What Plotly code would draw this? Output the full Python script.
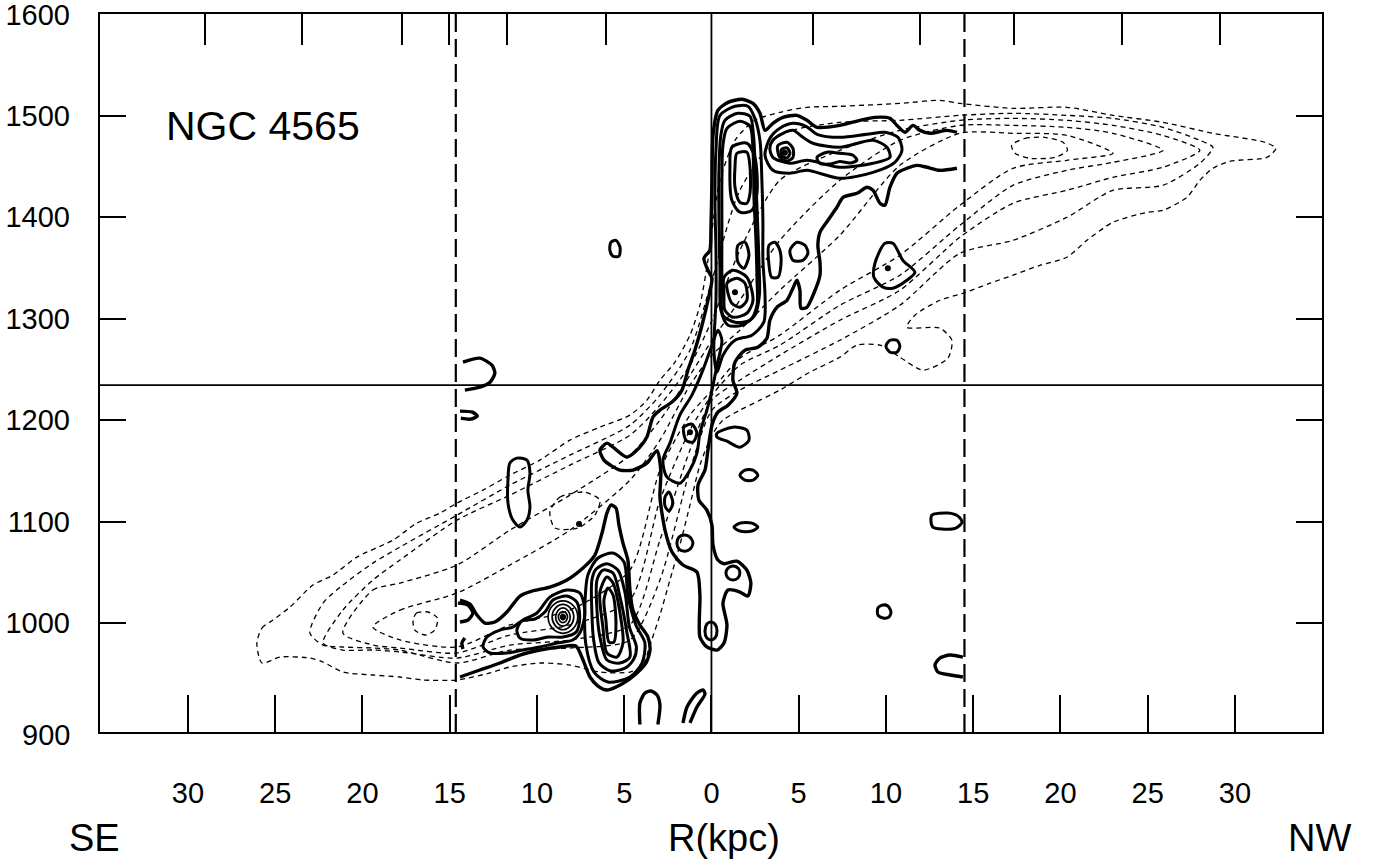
import plotly.graph_objects as go

# ---------------- axes / reference values ----------------
R_TICKS = [-30, -25, -20, -15, -10, -5, 0, 5, 10, 15, 20, 25, 30]
R_TICK_TEXT = ["30", "25", "20", "15", "10", "5", "0", "5", "10", "15", "20", "25", "30"]
R_TOP_TICKS = [-29.03, -23.47, -17.74, -15.04, -11.72, -6.05, 5.82, 11.95, 17.34, 23.52, 29.14]
V_TICKS = [1000, 1100, 1200, 1300, 1400, 1500, 1600]
R_RANGE = [-35.04, 34.99]
V_RANGE = [892.6, 1600.4]
V_SYS = 1234.5
R_EDGES = [-14.65, 14.5]

# ---------------- HI contours (thin dashed), (R kpc, V km/s) ----------------
HI_1 = [(-26.05, 980.3), (-25.76, 995.1), (-25.13, 1003.0), (-24.15, 1015.8), (-22.84, 1037.5), (-21.69, 1047.3),
        (-20.32, 1065.0), (-18.25, 1081.8), (-16.88, 1098.5), (-15.56, 1108.4), (-14.58, 1118.3), (-13.09, 1131.1),
        (-11.55, 1145.8), (-9.83, 1160.6), (-8.11, 1180.3), (-6.39, 1193.1), (-4.67, 1205.0), (-3.70, 1219.7),
        (-2.95, 1239.4), (-2.09, 1257.2), (-1.23, 1283.8), (-0.66, 1313.3), (-0.20, 1357.6), (0.03, 1387.2),
        (0.49, 1436.5), (1.35, 1475.9), (2.49, 1495.6), (3.92, 1503.5), (5.47, 1508.4), (7.36, 1509.4),
        (10.80, 1512.3), (13.09, 1515.3), (14.24, 1512.3), (17.28, 1507.4), (20.37, 1508.4), (23.01, 1500.5),
        (25.87, 1493.6), (28.74, 1482.8), (31.72, 1473.9), (32.35, 1468.0), (31.83, 1459.1), (29.71, 1455.2),
        (28.74, 1448.3), (27.99, 1436.5), (27.25, 1419.7), (25.87, 1406.9), (24.96, 1404.9), (23.01, 1395.1),
        (21.52, 1377.3), (20.37, 1360.6), (18.83, 1352.7), (17.28, 1342.9), (15.96, 1335.0), (14.41, 1325.1),
        (13.09, 1318.2), (11.66, 1303.5), (11.20, 1291.6), (13.09, 1290.7), (13.78, 1278.8), (13.55, 1261.1),
        (12.12, 1249.3), (10.80, 1262.1), (9.66, 1273.9), (8.34, 1273.9), (7.36, 1262.1), (5.64, 1247.3),
        (3.92, 1229.6), (2.78, 1219.7), (1.63, 1209.9), (0.66, 1200.0), (0.03, 1185.2), (-0.66, 1155.7),
        (-1.23, 1116.3), (-1.81, 1076.9), (-2.38, 1042.4), (-2.95, 1007.9), (-3.52, 978.3), (-3.93, 958.6),
        (-4.67, 951.7), (-6.39, 951.7), (-8.11, 958.6), (-9.83, 960.6), (-11.55, 956.7), (-12.69, 950.8),
        (-14.58, 943.9), (-16.53, 943.9), (-17.85, 946.8), (-19.40, 948.8), (-21.12, 951.7), (-22.26, 961.6),
        (-23.01, 965.5), (-24.73, 966.5), (-25.76, 960.6)]
HI_2 = [(-23.01, 990.2), (-22.26, 1019.7), (-21.12, 1037.5), (-19.40, 1059.1), (-17.85, 1074.9), (-14.58, 1106.4),
        (-11.55, 1136.0), (-8.11, 1165.5), (-4.67, 1195.1), (-2.95, 1224.7), (-1.23, 1269.0), (0.03, 1337.9),
        (1.63, 1426.6), (3.92, 1480.8), (7.36, 1493.6), (10.80, 1495.6), (14.24, 1500.5), (17.28, 1502.5),
        (20.37, 1500.5), (23.01, 1497.5), (25.87, 1488.7), (27.99, 1475.9), (28.74, 1469.0), (27.99, 1453.2),
        (25.87, 1431.5), (23.01, 1426.6), (20.37, 1400.0), (17.28, 1377.3), (14.24, 1364.5), (10.80, 1313.3),
        (7.36, 1278.8), (3.92, 1249.3), (1.63, 1229.6), (0.03, 1209.9), (-1.23, 1150.8), (-2.95, 1042.4),
        (-4.67, 983.3), (-8.11, 975.4), (-11.55, 973.4), (-14.58, 960.6), (-17.85, 973.4), (-19.40, 975.4),
        (-21.12, 976.4), (-22.26, 978.3)]
HI_3 = [(-22.26, 980.3), (-21.12, 1012.8), (-19.40, 1042.4), (-17.85, 1062.1), (-14.58, 1101.5), (-11.55, 1126.1),
        (-8.11, 1155.7), (-4.67, 1185.2), (-2.95, 1214.8), (-1.23, 1254.2), (0.03, 1298.5), (1.63, 1367.5),
        (3.92, 1436.5), (7.36, 1466.0), (10.80, 1485.7), (14.24, 1495.6), (17.28, 1497.5), (20.37, 1495.6),
        (23.01, 1490.6), (25.87, 1480.8), (27.99, 1466.0), (25.87, 1449.3), (23.01, 1439.4), (20.37, 1426.6),
        (17.28, 1413.8), (14.24, 1380.3), (10.80, 1328.1), (7.36, 1298.5), (3.92, 1264.1), (1.63, 1239.4),
        (0.03, 1219.7), (-1.23, 1170.5), (-2.95, 1081.8), (-4.67, 998.1), (-8.11, 983.3), (-11.55, 978.3),
        (-14.58, 965.5), (-17.85, 971.5), (-19.40, 973.4), (-21.12, 973.4)]
HI_4 = [(-21.12, 990.2), (-19.40, 1032.5), (-17.85, 1039.4), (-14.58, 1057.2), (-11.55, 1091.6), (-8.11, 1126.1),
        (-4.67, 1165.5), (-2.95, 1200.0), (-1.23, 1244.3), (0.03, 1278.8), (1.63, 1318.2), (3.92, 1377.3),
        (7.36, 1436.5), (10.80, 1475.9), (14.24, 1490.6), (17.28, 1490.6), (20.37, 1488.7), (23.01, 1482.8),
        (25.87, 1466.0), (23.01, 1454.2), (20.37, 1446.3), (17.28, 1431.5), (14.24, 1392.1), (10.80, 1342.9),
        (7.36, 1313.3), (3.92, 1273.9), (1.63, 1254.2), (0.03, 1224.7), (-1.23, 1190.2), (-2.95, 1121.2),
        (-4.67, 1022.7), (-8.11, 998.1), (-11.55, 988.2), (-14.58, 970.5), (-17.85, 975.4), (-19.40, 978.3)]
HI_5 = [(-19.40, 996.1), (-17.85, 1012.8), (-14.58, 1029.6), (-11.55, 1057.2), (-8.11, 1091.6), (-4.67, 1140.9),
        (-2.95, 1180.3), (-1.23, 1234.5), (0.03, 1264.1), (1.63, 1288.7), (3.92, 1328.1), (7.36, 1382.3),
        (10.80, 1451.2), (14.24, 1482.8), (17.28, 1482.8), (20.37, 1480.8), (23.01, 1463.1), (20.37, 1456.2),
        (17.28, 1448.3), (14.24, 1411.8), (10.80, 1362.6), (7.36, 1328.1), (3.92, 1283.8), (1.63, 1261.1),
        (0.03, 1229.6), (-1.23, 1205.0), (-2.95, 1150.8), (-4.67, 1052.2), (-8.11, 1012.8), (-11.55, 998.1),
        (-14.58, 976.4), (-17.85, 983.3)]
HI_PEAK_SE = [(-17.1, 1003.0), (-16.9, 1009.9), (-16.25, 1010.9), (-15.7, 1005.0), (-15.85, 993.1), (-16.4, 988.2),
              (-17.0, 993.1)]
HI_PEAK_NW = [(17.2, 1471.0), (17.97, 1477.8), (19.1, 1478.8), (20.15, 1473.9), (20.4, 1466.0), (19.7, 1459.1),
              (18.25, 1458.1), (17.4, 1463.1)]
HI_KNOT = [(-9.26, 1109.4), (-8.68, 1124.2), (-7.25, 1129.1), (-6.39, 1121.2), (-6.68, 1106.4), (-7.65, 1093.6),
           (-8.97, 1093.6)]

# ---------------- thick contours: closed loops ----------------
C_2 = [(0.49, 1500.5), (1.35, 1509.4), (2.09, 1509.4), (2.49, 1497.5), (2.78, 1475.9), (2.89, 1436.5),
       (2.95, 1397.1), (2.95, 1357.6), (3.07, 1323.2), (3.0, 1296.6), (2.32, 1283.8), (1.35, 1278.8),
       (0.66, 1264.1), (0.32, 1247.3), (0.14, 1269.0), (0.26, 1318.2), (0.26, 1367.5), (0.20, 1416.8), (0.26, 1466.0)]
C_3 = [(0.77, 1495.6), (1.52, 1502.5), (2.21, 1499.5), (2.41, 1480.8), (2.52, 1446.3), (2.64, 1397.1),
       (2.72, 1357.6), (2.75, 1323.2), (2.49, 1303.5), (1.75, 1293.6), (0.95, 1293.6), (0.54, 1308.4),
       (0.49, 1347.8), (0.43, 1397.1), (0.43, 1446.3), (0.54, 1480.8)]
C_4 = [(0.89, 1487.7), (1.63, 1494.6), (2.21, 1489.7), (2.38, 1466.0), (2.44, 1416.8), (2.55, 1377.3),
       (2.61, 1337.9), (2.61, 1313.3), (2.21, 1298.5), (1.35, 1296.6), (0.66, 1303.5), (0.60, 1337.9),
       (0.60, 1387.2), (0.60, 1436.5), (0.66, 1471.0)]
PEAK_TOP_1 = [(1.06, 1449.3), (1.17, 1469.0), (2.03, 1473.0), (2.49, 1459.1), (2.61, 1423.7), (2.32, 1406.9),
              (1.63, 1405.0), (1.17, 1416.8)]
PEAK_TOP_2 = [(1.46, 1463.1), (2.03, 1464.1), (2.21, 1449.3), (2.21, 1423.7), (2.03, 1413.8), (1.63, 1414.8),
              (1.35, 1429.6), (1.35, 1449.3)]
PEAK_MID = [(1.52, 1372.4), (1.92, 1375.4), (2.15, 1362.6), (1.86, 1349.8), (1.52, 1355.7)]
PEAK_LOW_1 = [(0.72, 1325.1), (0.72, 1340.9), (1.23, 1347.8), (2.03, 1340.9), (2.38, 1318.2), (2.03, 1305.4),
              (1.23, 1301.5), (0.77, 1308.4)]
PEAK_LOW_2 = [(0.95, 1325.1), (0.89, 1335.0), (1.46, 1339.9), (1.92, 1335.0), (2.03, 1318.2), (1.63, 1311.3),
              (1.17, 1315.3)]
ARM_2 = [(3.35, 1477.8), (3.92, 1487.7), (4.67, 1492.6), (5.42, 1489.7), (6.05, 1481.8), (7.36, 1478.8),
         (8.91, 1481.8), (9.94, 1483.8), (10.69, 1478.8), (10.92, 1466.0), (10.51, 1454.2), (9.26, 1444.3),
         (7.36, 1438.4), (5.47, 1446.3), (4.50, 1443.4), (3.52, 1446.3), (3.07, 1461.1)]
ARM_3 = [(3.52, 1475.9), (4.10, 1482.8), (4.67, 1485.7), (5.24, 1478.8), (5.82, 1473.0), (7.36, 1469.0),
         (9.26, 1475.9), (10.06, 1469.0), (10.23, 1459.1), (9.26, 1453.2), (7.36, 1449.3), (5.47, 1456.2),
         (4.50, 1453.2), (3.52, 1459.1), (3.35, 1468.0)]
ARM_PEAK_1 = [(3.80, 1470.5), (4.33, 1474.0), (4.67, 1468.0), (4.67, 1459.0), (4.33, 1455.5), (3.92, 1459.0)]
ARM_PEAK_2 = [(4.00, 1466.5), (4.33, 1468.5), (4.50, 1463.1), (4.33, 1458.5), (4.04, 1460.5)]
ARM_KNOT = [(6.05, 1459.1), (6.62, 1464.1), (7.36, 1463.1), (8.11, 1461.1), (8.34, 1456.2), (7.94, 1453.5),
            (7.36, 1455.0), (6.79, 1452.5), (6.22, 1453.0)]
CHAIN_1 = [(-2.38, 1177.4), (-2.78, 1160.6), (-2.55, 1143.9), (-1.81, 1137.9), (-1.23, 1150.8), (-0.83, 1167.5),
           (-0.66, 1187.2), (-0.26, 1209.9), (0.03, 1229.6), (0.32, 1254.2), (0.60, 1278.8), (0.37, 1288.7),
           (0.03, 1273.9), (-0.49, 1249.3), (-1.12, 1224.7), (-1.81, 1205.0)]
CHAIN_2 = [(-1.58, 1193.1), (-1.12, 1196.1), (-0.83, 1187.2), (-1.06, 1178.3), (-1.46, 1180.3)]
CHAIN_3 = [(-2.66, 1124.2), (-2.44, 1129.1), (-2.21, 1118.3), (-2.44, 1110.4), (-2.66, 1115.3)]
CHAIN_RING_1 = [(-1.06, 1078.8), (-1.23, 1084.7), (-1.52, 1086.7), (-1.86, 1084.7), (-1.98, 1078.8),
                (-1.86, 1072.9), (-1.52, 1070.9), (-1.23, 1072.9)]
CHAIN_RING_2 = [(1.63, 1049.3), (1.52, 1054.2), (1.23, 1056.2), (0.95, 1054.2), (0.83, 1049.3), (0.95, 1044.4),
                (1.23, 1042.4), (1.52, 1044.4)]
CHAIN_RING_3 = [(0.32, 992.1), (0.20, 999.0), (-0.03, 1001.0), (-0.26, 999.0), (-0.37, 992.1), (-0.26, 985.2),
                (-0.03, 983.3), (0.20, 985.2)]
WING = [(0.32, 1187.2), (1.23, 1193.1), (2.03, 1190.2), (2.15, 1180.3), (1.63, 1173.4), (0.89, 1179.3),
        (0.32, 1183.3)]
OVAL_1 = [(2.66, 1145.8), (2.38, 1150.8), (1.92, 1150.8), (1.63, 1145.8), (1.92, 1140.9), (2.38, 1140.9)]
OVAL_2 = [(2.66, 1094.6), (2.32, 1098.5), (1.63, 1098.5), (1.29, 1094.6), (1.63, 1090.7), (2.32, 1090.7)]
ISO_SE = [(-5.76, 1375.4), (-5.47, 1377.3), (-5.24, 1370.5), (-5.30, 1361.6), (-5.64, 1361.6), (-5.82, 1367.5)]
BEAN = [(-11.55, 1157.7), (-11.15, 1162.6), (-10.57, 1160.6), (-10.40, 1147.8), (-10.52, 1131.1),
        (-10.40, 1114.3), (-10.57, 1101.5), (-10.97, 1094.6), (-11.38, 1101.5), (-11.66, 1118.3), (-11.66, 1140.9)]
ISO_NW_1 = [(10.29, 1010.9), (10.11, 1016.8), (9.83, 1017.8), (9.54, 1014.8), (9.54, 1007.9), (9.83, 1005.0),
            (10.17, 1005.9)]
ISO_NW_2 = [(12.64, 1106.4), (13.55, 1108.4), (14.13, 1105.4), (14.36, 1099.5), (14.01, 1093.6), (13.21, 1092.6),
            (12.69, 1094.6), (12.58, 1100.5)]
ISO_NW_3 = [(9.37, 1354.7), (9.94, 1374.4), (10.40, 1374.4), (10.97, 1357.6), (11.66, 1345.8), (11.20, 1337.9),
            (10.40, 1330.1), (9.83, 1331.1), (9.31, 1340.9)]
ISO_NW_4 = [(10.80, 1272.9), (10.63, 1278.8), (10.23, 1278.8), (10.00, 1272.9), (10.23, 1267.0), (10.63, 1267.0)]
KNOT_A = [(3.30, 1372.4), (3.64, 1375.4), (3.92, 1367.5), (3.98, 1352.7), (3.81, 1340.9), (3.45, 1340.9),
          (3.30, 1352.7)]
KNOT_B = [(4.50, 1367.5), (4.90, 1375.4), (5.36, 1372.4), (5.53, 1364.6), (5.24, 1357.6), (4.67, 1357.6)]
SE_2 = [(-13.09, 976.4), (-12.87, 986.2), (-12.12, 993.1), (-11.38, 996.1), (-10.80, 1003.0), (-10.00, 1009.9),
        (-9.26, 1025.6), (-8.28, 1032.5), (-7.54, 1029.6), (-7.25, 1009.9), (-7.54, 990.2), (-7.94, 983.3),
        (-8.85, 980.3), (-9.83, 976.4), (-10.80, 973.4), (-11.72, 970.5), (-12.69, 970.5)]
SE_3 = [(-11.15, 993.1), (-10.86, 1002.0), (-10.11, 1004.0), (-9.54, 1010.9), (-9.08, 1022.7), (-8.28, 1026.6),
        (-7.71, 1020.7), (-7.55, 1005.0), (-7.75, 991.2), (-8.51, 986.2), (-9.37, 986.2), (-10.23, 983.3),
        (-10.97, 985.2)]
SE_RING_1 = [(-7.66, 1005.9), (-7.91, 1017.1), (-8.51, 1021.9), (-9.11, 1017.1), (-9.36, 1005.9), (-9.11, 994.7),
             (-8.51, 989.9), (-7.91, 994.7)]
SE_RING_2 = [(-7.89, 1005.9), (-8.08, 1014.7), (-8.51, 1018.4), (-8.94, 1014.7), (-9.13, 1005.9), (-8.94, 997.2),
             (-8.51, 993.4), (-8.08, 997.2)]
SE_RING_3 = [(-8.09, 1005.9), (-8.22, 1012.2), (-8.51, 1014.9), (-8.80, 1012.2), (-8.93, 1005.9), (-8.80, 999.6),
             (-8.51, 996.9), (-8.22, 999.6)]
SE_RING_4 = [(-8.25, 1005.9), (-8.33, 1009.8), (-8.51, 1011.4), (-8.69, 1009.8), (-8.77, 1005.9), (-8.69, 1002.0),
             (-8.51, 1000.4), (-8.33, 1002.0)]
SE_RING_5 = [(-8.39, 1005.9), (-8.43, 1007.7), (-8.51, 1008.4), (-8.59, 1007.7), (-8.63, 1005.9), (-8.59, 1004.1),
             (-8.51, 1003.4), (-8.43, 1004.1)]
SE_BAR_0 = [(-7.08, 1047.3), (-6.50, 1064.1), (-5.64, 1069.0), (-5.01, 1060.1), (-4.79, 1027.6), (-4.33, 998.1),
            (-3.81, 980.3), (-3.98, 960.6), (-4.67, 946.8), (-5.93, 941.9), (-6.73, 951.7), (-7.19, 978.3),
            (-7.25, 1017.8)]
SE_BAR_1 = [(-6.85, 1042.4), (-6.62, 1053.0), (-5.99, 1058.5), (-5.35, 1052.0), (-4.95, 1029.6), (-4.70, 996.1),
            (-4.30, 976.4), (-4.45, 964.5), (-4.95, 955.5), (-5.82, 953.0), (-6.45, 961.0), (-6.75, 983.3),
            (-6.85, 1009.9)]
SE_BAR_2 = [(-6.56, 1042.4), (-6.22, 1052.2), (-5.64, 1049.3), (-5.24, 1025.6), (-4.84, 990.2), (-4.67, 966.5),
            (-5.24, 960.6), (-5.99, 963.6), (-6.39, 986.2), (-6.56, 1012.8)]
SE_BAR_3 = [(-6.39, 1030.6), (-5.99, 1045.4), (-5.64, 1039.4), (-5.24, 1009.9), (-5.07, 980.3), (-5.42, 966.5),
            (-5.99, 970.5), (-6.22, 996.1)]
SE_BAR_4 = [(-6.16, 1022.7), (-5.93, 1034.5), (-5.64, 1027.6), (-5.47, 1000.0), (-5.59, 981.3), (-5.87, 981.3),
            (-6.05, 1003.0)]

# ---------------- thick contours: open (cut by field edge or axis) ----------------
OUTER_CORE = [(14.07, 1483.8), (13.50, 1485.7), (12.52, 1482.8), (11.95, 1485.7), (11.55, 1490.6), (11.09, 1483.8),
              (10.63, 1490.6), (10.23, 1497.5), (9.37, 1498.5), (8.51, 1495.6), (7.36, 1490.6), (6.05, 1488.7),
              (5.47, 1495.6), (4.90, 1500.5), (4.10, 1498.5), (3.52, 1492.6), (3.07, 1485.7), (2.78, 1502.5),
              (2.38, 1512.3), (1.75, 1516.3), (0.95, 1513.3), (0.37, 1505.4), (0.09, 1480.8), (0.03, 1436.5),
              (-0.03, 1387.2), (-0.09, 1367.5), (-0.43, 1359.6), (-0.20, 1347.8), (0.03, 1339.9), (-0.20, 1318.2),
              (-0.54, 1293.6), (-0.95, 1269.0), (-1.35, 1249.3), (-1.69, 1229.6), (-2.26, 1217.8), (-2.95, 1209.9),
              (-3.35, 1203.0), (-3.70, 1183.3), (-4.10, 1173.4), (-4.84, 1163.6), (-5.64, 1173.4), (-5.99, 1177.4),
              (-6.39, 1170.5), (-6.16, 1160.6), (-5.70, 1154.7), (-5.24, 1150.8), (-4.50, 1150.8), (-3.70, 1157.7),
              (-3.12, 1170.0), (-2.90, 1150.0), (-2.95, 1124.2), (-2.66, 1091.6), (-2.26, 1070.0), (-1.63, 1057.2),
              (-0.83, 1050.3), (-0.66, 1027.6), (-0.66, 986.2), (-0.26, 976.4), (0.32, 973.4), (0.72, 980.3),
              (0.89, 998.1), (0.66, 1019.7), (0.95, 1032.5), (1.63, 1030.6), (2.09, 1026.6), (2.26, 1039.4),
              (2.03, 1052.2), (1.46, 1061.0), (0.72, 1058.5), (0.37, 1062.1), (0.09, 1076.9), (0.03, 1096.6),
              (-0.26, 1111.3), (-0.72, 1121.2), (-0.77, 1136.0), (-0.37, 1150.8), (-0.20, 1170.5), (0.03, 1195.1),
              (0.37, 1207.9), (0.95, 1214.8), (1.46, 1226.6), (1.23, 1239.4), (1.35, 1257.2), (1.92, 1269.0),
              (2.66, 1271.9), (3.18, 1280.8), (3.35, 1298.5), (3.75, 1311.3), (4.33, 1318.2), (4.67, 1330.1),
              (4.90, 1337.9), (5.07, 1328.1), (5.13, 1310.4), (5.47, 1311.3), (5.87, 1325.1), (6.22, 1342.9),
              (6.22, 1355.7), (6.10, 1372.4), (6.22, 1385.2), (6.68, 1397.1), (7.19, 1409.9), (7.54, 1419.7),
              (8.34, 1423.7), (8.91, 1429.6), (9.26, 1426.6), (9.66, 1413.8), (9.94, 1411.8), (10.23, 1429.6),
              (10.63, 1443.4), (11.20, 1448.3), (11.78, 1451.2), (12.35, 1449.3), (13.09, 1446.3), (14.07, 1448.3)]
OUTER_SE = [(-14.41, 1022.7), (-13.84, 1018.7), (-13.44, 1007.9), (-12.98, 1000.0), (-12.41, 1001.0),
            (-11.72, 1010.9), (-10.97, 1026.6), (-10.29, 1031.5), (-9.26, 1035.5), (-8.28, 1042.4), (-7.36, 1054.2),
            (-6.68, 1067.0), (-6.27, 1088.7), (-5.99, 1108.4), (-5.76, 1116.3), (-5.47, 1113.3), (-5.30, 1096.6),
            (-5.07, 1078.8), (-4.79, 1062.1), (-4.67, 1032.5), (-4.50, 1012.8), (-4.10, 998.1), (-3.64, 986.2),
            (-3.52, 973.4), (-3.75, 960.6), (-4.33, 949.8), (-5.13, 939.9), (-5.99, 934.0), (-6.50, 937.9),
            (-6.96, 946.8), (-7.36, 963.6), (-7.77, 977.4), (-8.68, 976.4), (-9.83, 973.4), (-10.97, 968.5),
            (-12.12, 960.6), (-13.27, 953.7), (-14.41, 946.8)]
ARCH = [(-4.10, 900.0), (-4.10, 921.2), (-3.81, 931.0), (-3.47, 933.0), (-3.12, 929.1), (-2.95, 919.3), (-3.07, 900.0)]
CURL = [(-1.63, 901.5), (-1.40, 917.3), (-0.89, 930.1), (-0.49, 934.0), (-0.37, 930.1), (-0.83, 917.3), (-1.23, 901.5)]
HOOK_SYS = [(-14.24, 1257.2), (-13.27, 1261.1), (-12.58, 1254.2), (-12.41, 1246.3), (-12.69, 1237.4),
            (-13.27, 1232.5), (-14.13, 1229.6)]
TICK_SYS = [(-14.41, 1208.9), (-13.70, 1207.9), (-13.41, 1204.0), (-13.81, 1201.0), (-14.36, 1202.0)]
HOOK_EDGE = [(-14.53, 1019.7), (-13.95, 1017.8), (-13.67, 1009.9), (-13.95, 1003.0), (-14.41, 1001.0)]
COMMA_EDGE = [(-14.13, 985.2), (-14.30, 980.3), (-14.24, 974.4)]
CUP_NW = [(14.41, 966.5), (13.67, 968.5), (13.09, 965.5), (12.81, 958.6), (12.98, 951.7), (13.67, 948.8), (14.41, 946.8)]

# intensity maxima (filled dots)
PEAK_DOTS = [(1.35, 1326.1), (4.21, 1463.5), (-1.23, 1188.2), (10.11, 1349.8), (-7.59, 1097.6), (-8.51, 1005.9)]

FONT = "Liberation Sans, Arial, Helvetica, sans-serif"


def closed(pts):
    return pts + [pts[0]]


fig = go.Figure()

hi_closed = [HI_1, HI_2, HI_3, HI_4, HI_5, HI_PEAK_SE, HI_PEAK_NW, HI_KNOT]
for c in hi_closed:
    c = closed(c)
    fig.add_trace(go.Scatter(x=[p[0] for p in c], y=[p[1] for p in c], mode="lines",
                             line=dict(color="black", width=1.3, dash="5px,4px", shape="spline", smoothing=0.7),
                             hoverinfo="skip", showlegend=False))

thick_closed = [C_2, C_3, C_4, PEAK_TOP_1, PEAK_TOP_2, PEAK_MID, PEAK_LOW_1, PEAK_LOW_2, ARM_2, ARM_3,
                ARM_PEAK_1, ARM_PEAK_2, ARM_KNOT, CHAIN_1, CHAIN_2, CHAIN_3, CHAIN_RING_1, CHAIN_RING_2,
                CHAIN_RING_3, WING, OVAL_1, OVAL_2, ISO_SE, BEAN, ISO_NW_1, ISO_NW_2, ISO_NW_3, ISO_NW_4,
                KNOT_A, KNOT_B, SE_2, SE_3, SE_BAR_0, SE_BAR_1, SE_BAR_2, SE_BAR_3, SE_BAR_4]
for c in thick_closed:
    c = closed(c)
    fig.add_trace(go.Scatter(x=[p[0] for p in c], y=[p[1] for p in c], mode="lines",
                             line=dict(color="black", width=3.0, shape="spline", smoothing=0.8),
                             hoverinfo="skip", showlegend=False))

for c in [SE_RING_1, SE_RING_2, SE_RING_3, SE_RING_4, SE_RING_5]:
    c = closed(c)
    fig.add_trace(go.Scatter(x=[p[0] for p in c], y=[p[1] for p in c], mode="lines",
                             line=dict(color="black", width=1.7, shape="spline", smoothing=1.0),
                             hoverinfo="skip", showlegend=False))

thick_open = [OUTER_CORE, OUTER_SE, ARCH, CURL, HOOK_SYS, TICK_SYS, HOOK_EDGE, COMMA_EDGE, CUP_NW]
for c in thick_open:
    fig.add_trace(go.Scatter(x=[p[0] for p in c], y=[p[1] for p in c], mode="lines",
                             line=dict(color="black", width=3.4, shape="spline", smoothing=0.7),
                             hoverinfo="skip", showlegend=False))

fig.add_trace(go.Scatter(x=[p[0] for p in PEAK_DOTS], y=[p[1] for p in PEAK_DOTS], mode="markers",
                         marker=dict(color="black", size=6), hoverinfo="skip", showlegend=False))

# carrier trace for the top tick axis
fig.add_trace(go.Scatter(x=[0], y=[1000], xaxis="x2", mode="markers", marker=dict(opacity=0),
                         hoverinfo="skip", showlegend=False))

# reference lines
fig.add_shape(type="line", xref="x", yref="paper", x0=0, x1=0, y0=0, y1=1,
              line=dict(color="black", width=1.8))
fig.add_shape(type="line", xref="paper", yref="y", x0=0, x1=1, y0=V_SYS, y1=V_SYS,
              line=dict(color="black", width=1.8))
for r in R_EDGES:
    fig.add_shape(type="line", xref="x", yref="paper", x0=r, x1=r, y0=0, y1=1,
                  line=dict(color="black", width=2.2, dash="18px,7px"))

fig.update_layout(
    width=1373, height=867,
    margin=dict(l=100, r=51, t=14, b=135, autoexpand=False),
    paper_bgcolor="white", plot_bgcolor="white",
    showlegend=False,
    font=dict(family=FONT, color="black"),
    xaxis=dict(range=R_RANGE, tickmode="array", tickvals=R_TICKS, ticktext=R_TICK_TEXT,
               ticks="inside", ticklen=37, tickwidth=2, tickcolor="black",
               showline=True, linewidth=2.4, linecolor="black", mirror=True, automargin=False,
               showgrid=False, zeroline=False, tickfont=dict(size=29, family=FONT, color="black"),
               ticklabelstandoff=34, ticklabeloverflow="allow"),
    xaxis2=dict(range=R_RANGE, overlaying="x", side="top", tickmode="array", tickvals=R_TOP_TICKS,
                ticks="inside", ticklen=31, tickwidth=2, tickcolor="black", showticklabels=False,
                showline=False, showgrid=False, zeroline=False, automargin=False),
    yaxis=dict(range=V_RANGE, tickmode="array", tickvals=V_TICKS,
               ticks="inside", ticklen=26, tickwidth=2, tickcolor="black",
               showline=True, linewidth=2.4, linecolor="black", mirror="ticks", automargin=False,
               showgrid=False, zeroline=False, tickfont=dict(size=29, family=FONT, color="black"),
               ticklabelstandoff=22, ticklabeloverflow="allow"),
)

fig.add_annotation(text="NGC 4565", xref="x", yref="y", x=-31.4, y=1489.7, xanchor="left", yanchor="middle",
                   showarrow=False, font=dict(size=41, family=FONT, color="black"))
fig.add_annotation(text="SE", xref="paper", yref="paper", x=-0.027, y=-0.1476, xanchor="left", yanchor="middle",
                   showarrow=False, font=dict(size=38, family=FONT, color="black"))
fig.add_annotation(text="R(kpc)", xref="paper", yref="paper", x=0.511, y=-0.1476, xanchor="center",
                   yanchor="middle", showarrow=False, font=dict(size=38, family=FONT, color="black"))
fig.add_annotation(text="NW", xref="paper", yref="paper", x=1.0254, y=-0.1476, xanchor="right", yanchor="middle",
                   showarrow=False, font=dict(size=38, family=FONT, color="black"))
fig.add_annotation(text="900", xref="paper", yref="paper", x=-0.0229, y=-0.004, xanchor="right", yanchor="middle",
                   showarrow=False, font=dict(size=29, family=FONT, color="black"))

fig.write_html("out.html")
